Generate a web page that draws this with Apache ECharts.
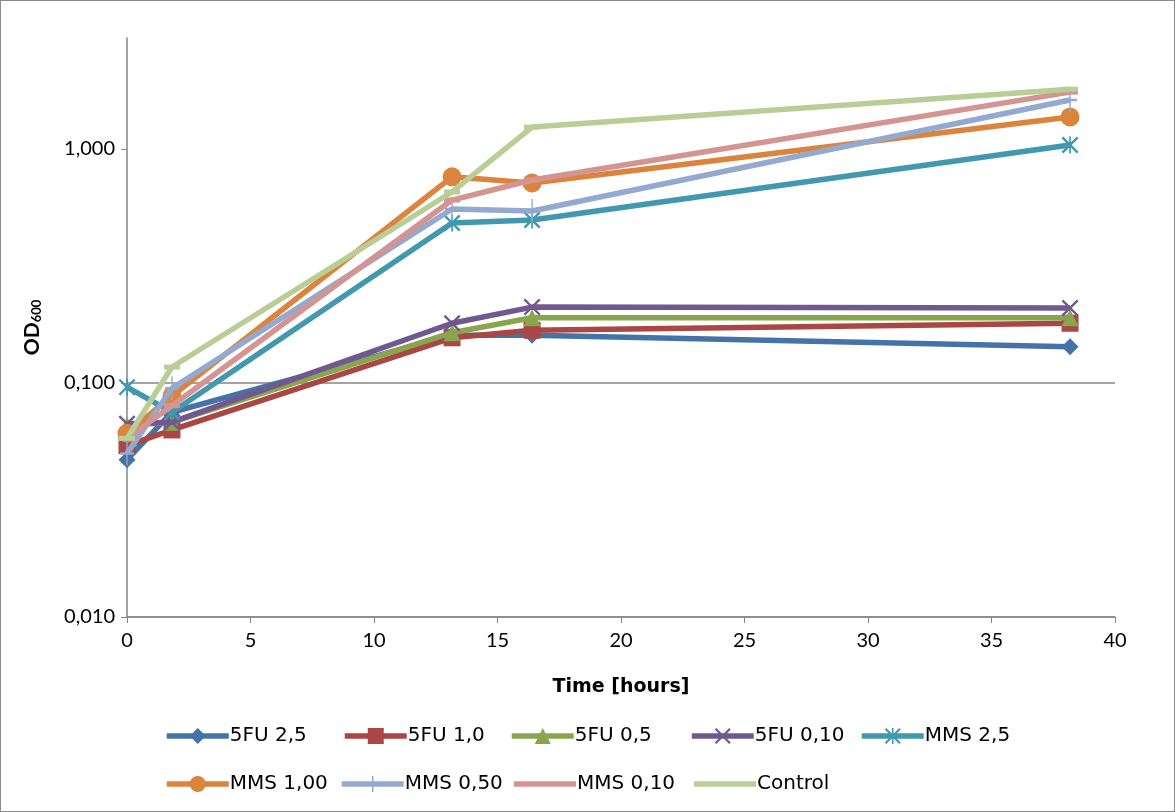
<!DOCTYPE html>
<html><head><meta charset="utf-8">
<script src="https://cdn.jsdelivr.net/npm/echarts@6/dist/echarts.min.js"></script>
<style>html,body{margin:0;padding:0;background:#fff}#c{width:1175px;height:812px;box-sizing:border-box;border:1px solid #8c8c8c}</style>
</head><body><div id="c"></div>
<script>
const hours = [0, 1.82, 13.16, 16.4, 38.18];
const names = ['5FU 2,5','5FU 1,0','5FU 0,5','5FU 0,10','MMS 2,5','MMS 1,00','MMS 0,50','MMS 0,10','Control'];
const fu25  = [0.047, 0.075, 0.160, 0.160, 0.143];
const fu10  = [0.054, 0.063, 0.156, 0.168, 0.180];
const fu05  = [0.066, 0.068, 0.164, 0.190, 0.190];
const fu010 = [0.067, 0.068, 0.180, 0.211, 0.209];
const mms25 = [0.096, 0.075, 0.483, 0.497, 1.04];
const mms100= [0.061, 0.088, 0.76, 0.716, 1.37];
const mms050= [0.050, 0.095, 0.554, 0.543, 1.62];
const mms010= [0.058, 0.080, 0.605, 0.737, 1.75];
const control=[0.058, 0.117, 0.655, 1.24, 1.80];
const yTicks = [0.01, 0.1, 1];

const X = 'path://M0,10L10,0L50,40L90,0L100,10L60,50L100,90L90,100L50,60L10,100L0,90L40,50Z';
const AST = 'path://M0,10L10,0L50,40L90,0L100,10L60,50L100,90L90,100L50,60L10,100L0,90L40,50ZM45,0H55V100H45Z';
const PLUS = 'path://M45,0H55V45H100V55H55V100H45V55H0V45H45Z';
const LINEICON = 'path://M0,0M62,18M0,6.3H62V11.7H0Z';
const all = [fu25, fu10, fu05, fu010, mms25, mms100, mms050, mms010, control];
const colors = ['#4572A7','#AA4643','#89A54E','#71588F','#4198AF','#DB843D','#93A9CF','#D49492','#B9CD96'];
const symbols = ['diamond','rect','triangle',X,AST,'circle',PLUS,'rect','rect'];
const sizes = [17,17,17,17,17,19,[14,24],[16,5],[16,5]];

const series = all.map((arr,i)=>({
  name: names[i], type:'line',
  data: hours.map((h,j)=>[h, arr[j]]),
  lineStyle:{width:5.5, color:colors[i]},
  itemStyle:{color:colors[i]},
  symbol: symbols[i], symbolSize: sizes[i], showSymbol:true,
  z: 2+i
}));

const legendPos = [[158,720],[336,720],[503,720],[683,720],[853,720],[158,768],[333,768],[508,768],[688,768]];
const legends = names.map((n,i)=>({
  data: (i>=7) ? [{name:n, icon:LINEICON}] : [n],
  left: legendPos[i][0], top: legendPos[i][1], itemWidth:62, itemHeight:20, itemGap:0,
  lineStyle:{width:5.5},
  textStyle:{fontSize:20, fontFamily:'"DejaVu Sans", sans-serif', color:'#000', padding:[0,0,0,-4]}
}));

const fmt = v => v.toFixed(3).replace('.', ',');
const font = 'Lato, "Liberation Sans", sans-serif';
const chart = echarts.init(document.getElementById('c'));
chart.setOption({
  animation:false,
  color: colors,
  grid:{left:126, right:59, top:37, bottom:194, containLabel:false},
  xAxis:{type:'value', min:0, max:40, interval:5,
    axisLine:{lineStyle:{color:'#868686', width:1.5}},
    axisTick:{show:true, length:6, lineStyle:{color:'#868686'}},
    axisLabel:{color:'#000', fontSize:20, fontFamily:font, margin:14},
    splitLine:{show:false},
    name:'Time [hours]', nameLocation:'middle', nameGap:61,
    nameTextStyle:{color:'#000', fontSize:19, fontWeight:'bold', fontFamily:'"DejaVu Sans", sans-serif'}},
  yAxis:{type:'log', logBase:10, min:0.01, max:2.98,
    axisLine:{show:true, lineStyle:{color:'#868686', width:1.5}},
    axisTick:{show:true, length:6, lineStyle:{color:'#868686'}, customValues: yTicks},
    axisLabel:{color:'#000', fontSize:20, fontFamily:font, margin:12, formatter: fmt, customValues: yTicks},
    splitLine:{show:true, showMaxLine:false, lineStyle:{color:'#868686', width:1.5}},
    name:'{a|OD}{b|600}', nameLocation:'middle', nameGap:84, nameRotate:90,
    nameTextStyle:{rich:{a:{fontSize:21, fontWeight:'bold', fontFamily:font, color:'#000'},
                         b:{fontSize:13, fontWeight:'bold', fontFamily:font, color:'#000', verticalAlign:'bottom', padding:[8,0,0,0]}}}},
  legend: legends,
  series
});
</script></body></html>
